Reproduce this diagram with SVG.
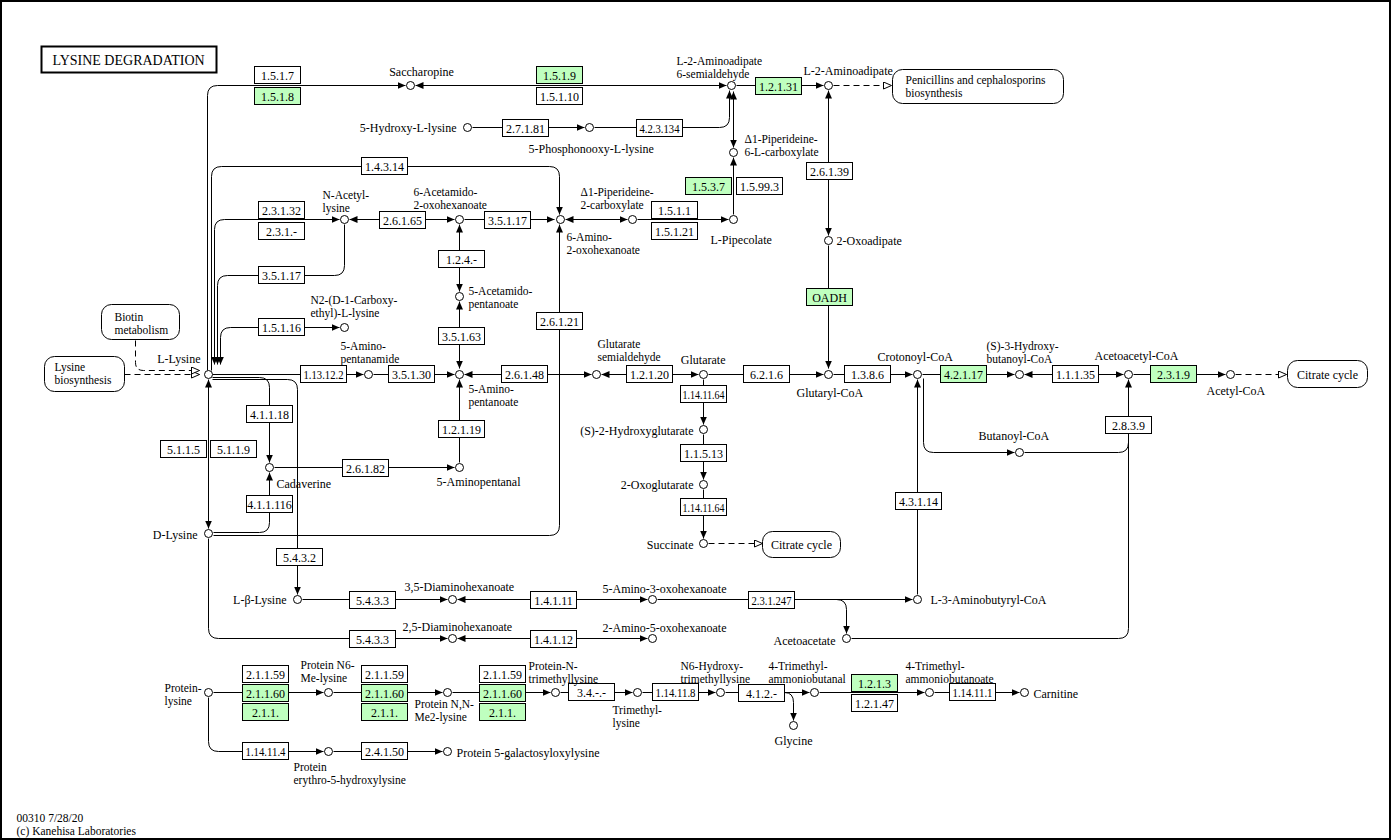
<svg xmlns="http://www.w3.org/2000/svg" width="1395" height="840" viewBox="0 0 1395 840">
<defs>
<style>
text{font-family:"Liberation Serif","Times New Roman",serif;font-size:12px;fill:#000}
text.s{font-size:11.5px}
.m{text-anchor:middle}
.r{text-anchor:end}
.e rect{fill:#fff;stroke:#000;stroke-width:1}
.e.g rect{fill:#bfffbf}
circle{fill:#fff;stroke:#000;stroke-width:1}
.map rect{fill:#fff;stroke:#000;stroke-width:1}
#connectors path{fill:none;stroke:#000;stroke-width:1}
#connectors path.d{stroke-dasharray:6,4}
#connectors .f{marker-end:url(#a)}
#connectors .b{marker-start:url(#a);marker-end:url(#a)}
#connectors .o{marker-end:url(#o)}
</style>
<marker id="a" viewBox="0 0 8 7" refX="8" refY="3.5" markerWidth="8" markerHeight="7" markerUnits="userSpaceOnUse" orient="auto-start-reverse"><path d="M0,0 L8,3.5 L0,7 z" fill="#000"/></marker>
<marker id="o" viewBox="0 0 9 8" refX="8.5" refY="4" markerWidth="9" markerHeight="8" markerUnits="userSpaceOnUse" orient="auto"><path d="M0.5,0.5 L8.5,4 L0.5,7.5 z" fill="#fff" stroke="#000" stroke-width="1"/></marker>
</defs>
<rect x="0" y="0" width="1395" height="840" fill="#fff"/>
<rect x="1" y="1" width="1389" height="838" fill="none" stroke="#000" stroke-width="2"/>
<g transform="translate(0.5,0.5)">
<g id="title"><rect x="41" y="46" width="175" height="26" fill="#fff" stroke="#000" stroke-width="2"/><text x="52" y="64" style="font-size:14px">LYSINE DEGRADATION</text></g>

<g id="connectors">
<path class="f" d="M207,370 V95 Q207,85 217,85 H405"/>
<path class="b" d="M415,85 H726"/>
<path class="f" d="M472,127 H584"/>
<path class="f" d="M594,127 H719 Q729,127 729,117 V90"/>
<path class="b" d="M733,147 V91"/>
<path class="f" d="M733,214 V157"/>
<path class="f" d="M736,85 H823"/>
<path class="b" d="M828,90 V235"/>
<path class="f" d="M828,245 V368"/>
<path class="d o" d="M833,85 H891"/>
<path class="f" d="M211,370 V176 Q211,166 221,166 H549 Q559,166 559,176 V214"/>
<path class="b" d="M214,364 V229 Q214,219 224,219 H339"/>
<path class="f" d="M344,224 V265 Q344,275 334,275 H227 Q217,275 217,285 V364"/>
<path class="b" d="M220,364 V337 Q220,327 230,327 H339"/>
<path class="b" d="M349,219 H454"/>
<path class="f" d="M464,219 H554"/>
<path class="b" d="M565,219 H627"/>
<path class="f" d="M637,219 H728"/>
<path class="b" d="M459,224 V291"/>
<path class="b" d="M459,301 V368"/>
<path class="f" d="M213,535 H549 Q559,535 559,525 V224"/>
<path class="f" d="M212,374 H363"/>
<path class="f" d="M212,377 H259 Q269,377 269,387 V462"/>
<path class="f" d="M212,379 H287 Q297,379 297,389 V594"/>
<path class="f" d="M373,374 H454"/>
<path class="b" d="M464,374 H591"/>
<path class="b" d="M601,374 H698"/>
<path class="f" d="M708,374 H823"/>
<path class="f" d="M833,374 H912"/>
<path class="f" d="M922,374 H1014"/>
<path class="b" d="M1024,374 H1123"/>
<path class="f" d="M1133,374 H1225"/>
<path class="d o" d="M1235,374 H1286"/>
<path class="f" d="M923,378 V442 Q923,452 933,452 H1014"/>
<path d="M1024,452 H1118 Q1128,452 1128,442"/>
<path class="f" d="M851,638 H1118 Q1128,638 1128,628 V379"/>
<path class="f" d="M703,379 V424"/>
<path class="f" d="M703,434 V479"/>
<path class="f" d="M703,489 V538"/>
<path class="d o" d="M708,543 H762"/>
<path class="b" d="M208,379 V528"/>
<path class="f" d="M213,532 H259 Q269,532 269,522 V472"/>
<path class="f" d="M274,467 H454"/>
<path class="f" d="M459,462 V379"/>
<path class="d o" d="M124,374 H199"/>
<path class="d o" d="M135,340 V362 Q135,370 143,370 H199"/>
<path class="f" d="M208,538 V628 Q208,638 218,638 H447"/>
<path class="f" d="M302,599 H447"/>
<path class="b" d="M457,599 H647"/>
<path class="f" d="M657,599 H912"/>
<path class="f" d="M836,599 Q846,599 846,609 V633"/>
<path class="f" d="M917,594 V379"/>
<path class="b" d="M457,638 H647"/>
<path class="f" d="M213,692 H323"/>
<path class="f" d="M333,692 H442"/>
<path class="f" d="M452,692 H550"/>
<path class="f" d="M560,692 H632"/>
<path class="f" d="M642,692 H715"/>
<path class="f" d="M725,692 H809"/>
<path class="f" d="M784,692 Q793,692 793,702 V720"/>
<path class="f" d="M819,692 H924"/>
<path class="f" d="M934,692 H1019"/>
<path class="f" d="M208,697 V741 Q208,751 218,751 H323"/>
<path class="f" d="M333,751 H442"/>
</g>

<g id="maps">
<g id="map-penicillins" class="map"><rect x="892" y="69" width="171" height="34" rx="10"/><text x="905" y="83" class="s">Penicillins and cephalosporins</text><text x="905" y="96" class="s">biosynthesis</text></g>
<g id="map-citrate1" class="map"><rect x="1287" y="360" width="80" height="27" rx="10"/><text x="1327" y="378" class="m">Citrate cycle</text></g>
<g id="map-citrate2" class="map"><rect x="762" y="531" width="78" height="26" rx="10"/><text x="801" y="548" class="m">Citrate cycle</text></g>
<g id="map-lysine-biosynthesis" class="map"><rect x="44" y="356" width="80" height="35" rx="10"/><text x="54" y="370" class="s">Lysine</text><text x="54" y="383" class="s">biosynthesis</text></g>
<g id="map-biotin" class="map"><rect x="101" y="304" width="78" height="35" rx="10"/><text x="114" y="320" class="s">Biotin</text><text x="114" y="333" class="s">metabolism</text></g>
</g>

<g id="enzymes">
<g id="ec-1.5.1.7" class="e"><rect x="254" y="66" width="46" height="17"/><text x="277" y="79" class="m">1.5.1.7</text></g>
<g id="ec-1.5.1.8" class="e g"><rect x="254" y="87" width="46" height="17"/><text x="277" y="100" class="m">1.5.1.8</text></g>
<g id="ec-1.5.1.9" class="e g"><rect x="536" y="66" width="46" height="17"/><text x="559" y="79" class="m">1.5.1.9</text></g>
<g id="ec-1.5.1.10" class="e"><rect x="536" y="87" width="46" height="17"/><text x="559" y="100" class="m">1.5.1.10</text></g>
<g id="ec-2.7.1.81" class="e"><rect x="502" y="119" width="46" height="17"/><text x="525" y="132" class="m">2.7.1.81</text></g>
<g id="ec-4.2.3.134" class="e"><rect x="636" y="119" width="46" height="17"/><text x="659" y="132" class="m" textLength="40" lengthAdjust="spacingAndGlyphs">4.2.3.134</text></g>
<g id="ec-1.2.1.31" class="e g"><rect x="755" y="77" width="46" height="17"/><text x="778" y="90" class="m">1.2.1.31</text></g>
<g id="ec-1.5.3.7" class="e g"><rect x="685" y="177" width="46" height="17"/><text x="708" y="190" class="m">1.5.3.7</text></g>
<g id="ec-1.5.99.3" class="e"><rect x="736" y="177" width="46" height="17"/><text x="759" y="190" class="m">1.5.99.3</text></g>
<g id="ec-2.6.1.39" class="e"><rect x="806" y="162" width="46" height="17"/><text x="829" y="175" class="m">2.6.1.39</text></g>
<g id="ec-1.4.3.14" class="e"><rect x="361" y="157" width="46" height="17"/><text x="384" y="170" class="m">1.4.3.14</text></g>
<g id="ec-2.3.1.32" class="e"><rect x="258" y="201" width="46" height="17"/><text x="281" y="214" class="m">2.3.1.32</text></g>
<g id="ec-2.3.1.-" class="e"><rect x="258" y="222" width="46" height="17"/><text x="281" y="235" class="m">2.3.1.-</text></g>
<g id="ec-2.6.1.65" class="e"><rect x="379" y="211" width="46" height="17"/><text x="402" y="224" class="m">2.6.1.65</text></g>
<g id="ec-3.5.1.17-a" class="e"><rect x="484" y="211" width="46" height="17"/><text x="507" y="224" class="m">3.5.1.17</text></g>
<g id="ec-1.5.1.1" class="e"><rect x="651" y="201" width="46" height="17"/><text x="674" y="214" class="m">1.5.1.1</text></g>
<g id="ec-1.5.1.21" class="e"><rect x="651" y="222" width="46" height="17"/><text x="674" y="235" class="m">1.5.1.21</text></g>
<g id="ec-3.5.1.17-b" class="e"><rect x="258" y="266" width="46" height="17"/><text x="281" y="279" class="m">3.5.1.17</text></g>
<g id="ec-1.2.4.-" class="e"><rect x="438" y="250" width="46" height="17"/><text x="461" y="263" class="m">1.2.4.-</text></g>
<g id="ec-OADH" class="e g"><rect x="806" y="288" width="46" height="17"/><text x="829" y="301" class="m">OADH</text></g>
<g id="ec-1.5.1.16" class="e"><rect x="258" y="318" width="46" height="17"/><text x="281" y="331" class="m">1.5.1.16</text></g>
<g id="ec-2.6.1.21" class="e"><rect x="536" y="312" width="46" height="17"/><text x="559" y="325" class="m">2.6.1.21</text></g>
<g id="ec-3.5.1.63" class="e"><rect x="438" y="327" width="46" height="17"/><text x="461" y="340" class="m">3.5.1.63</text></g>
<g id="ec-1.13.12.2" class="e"><rect x="300" y="365" width="46" height="17"/><text x="323" y="378" class="m" textLength="40" lengthAdjust="spacingAndGlyphs">1.13.12.2</text></g>
<g id="ec-3.5.1.30" class="e"><rect x="388" y="365" width="46" height="17"/><text x="411" y="378" class="m">3.5.1.30</text></g>
<g id="ec-2.6.1.48" class="e"><rect x="501" y="365" width="46" height="17"/><text x="524" y="378" class="m">2.6.1.48</text></g>
<g id="ec-1.2.1.20" class="e"><rect x="626" y="365" width="46" height="17"/><text x="649" y="378" class="m">1.2.1.20</text></g>
<g id="ec-6.2.1.6" class="e"><rect x="743" y="365" width="46" height="17"/><text x="766" y="378" class="m">6.2.1.6</text></g>
<g id="ec-1.3.8.6" class="e"><rect x="844" y="365" width="46" height="17"/><text x="867" y="378" class="m">1.3.8.6</text></g>
<g id="ec-4.2.1.17" class="e g"><rect x="940" y="365" width="46" height="17"/><text x="963" y="378" class="m">4.2.1.17</text></g>
<g id="ec-1.1.1.35" class="e"><rect x="1052" y="365" width="46" height="17"/><text x="1075" y="378" class="m">1.1.1.35</text></g>
<g id="ec-2.3.1.9" class="e g"><rect x="1150" y="365" width="46" height="17"/><text x="1173" y="378" class="m">2.3.1.9</text></g>
<g id="ec-1.14.11.64-a" class="e"><rect x="680" y="385" width="46" height="17"/><text x="703" y="398" class="m" textLength="42" lengthAdjust="spacingAndGlyphs">1.14.11.64</text></g>
<g id="ec-4.1.1.18" class="e"><rect x="246" y="405" width="46" height="17"/><text x="269" y="418" class="m">4.1.1.18</text></g>
<g id="ec-1.2.1.19" class="e"><rect x="438" y="420" width="46" height="17"/><text x="461" y="433" class="m">1.2.1.19</text></g>
<g id="ec-2.8.3.9" class="e"><rect x="1105" y="416" width="46" height="17"/><text x="1128" y="429" class="m">2.8.3.9</text></g>
<g id="ec-5.1.1.5" class="e"><rect x="160" y="440" width="46" height="17"/><text x="183" y="453" class="m">5.1.1.5</text></g>
<g id="ec-5.1.1.9" class="e"><rect x="210" y="440" width="46" height="17"/><text x="233" y="453" class="m">5.1.1.9</text></g>
<g id="ec-1.1.5.13" class="e"><rect x="680" y="444" width="46" height="17"/><text x="703" y="457" class="m">1.1.5.13</text></g>
<g id="ec-2.6.1.82" class="e"><rect x="342" y="459" width="46" height="17"/><text x="365" y="472" class="m">2.6.1.82</text></g>
<g id="ec-4.3.1.14" class="e"><rect x="895" y="492" width="46" height="17"/><text x="918" y="505" class="m">4.3.1.14</text></g>
<g id="ec-4.1.1.116" class="e"><rect x="246" y="495" width="46" height="17"/><text x="269" y="508" class="m">4.1.1.116</text></g>
<g id="ec-1.14.11.64-b" class="e"><rect x="680" y="498" width="46" height="17"/><text x="703" y="511" class="m" textLength="42" lengthAdjust="spacingAndGlyphs">1.14.11.64</text></g>
<g id="ec-5.4.3.2" class="e"><rect x="276" y="548" width="46" height="17"/><text x="299" y="561" class="m">5.4.3.2</text></g>
<g id="ec-5.4.3.3-a" class="e"><rect x="349" y="591" width="46" height="17"/><text x="372" y="604" class="m">5.4.3.3</text></g>
<g id="ec-1.4.1.11" class="e"><rect x="530" y="591" width="46" height="17"/><text x="553" y="604" class="m">1.4.1.11</text></g>
<g id="ec-2.3.1.247" class="e"><rect x="748" y="591" width="46" height="17"/><text x="771" y="604" class="m" textLength="40" lengthAdjust="spacingAndGlyphs">2.3.1.247</text></g>
<g id="ec-5.4.3.3-b" class="e"><rect x="349" y="630" width="46" height="17"/><text x="372" y="643" class="m">5.4.3.3</text></g>
<g id="ec-1.4.1.12" class="e"><rect x="530" y="630" width="46" height="17"/><text x="553" y="643" class="m">1.4.1.12</text></g>
<g id="ec-2.1.1.59-a" class="e"><rect x="242" y="665" width="46" height="17"/><text x="265" y="678" class="m">2.1.1.59</text></g>
<g id="ec-2.1.1.60-a" class="e g"><rect x="242" y="684" width="46" height="17"/><text x="265" y="697" class="m">2.1.1.60</text></g>
<g id="ec-2.1.1.-a" class="e g"><rect x="242" y="703" width="46" height="17"/><text x="265" y="716" class="m">2.1.1.</text></g>
<g id="ec-2.1.1.59-b" class="e"><rect x="361" y="665" width="46" height="17"/><text x="384" y="678" class="m">2.1.1.59</text></g>
<g id="ec-2.1.1.60-b" class="e g"><rect x="361" y="684" width="46" height="17"/><text x="384" y="697" class="m">2.1.1.60</text></g>
<g id="ec-2.1.1.-b" class="e g"><rect x="361" y="703" width="46" height="17"/><text x="384" y="716" class="m">2.1.1.</text></g>
<g id="ec-2.1.1.59-c" class="e"><rect x="479" y="665" width="46" height="17"/><text x="502" y="678" class="m">2.1.1.59</text></g>
<g id="ec-2.1.1.60-c" class="e g"><rect x="479" y="684" width="46" height="17"/><text x="502" y="697" class="m">2.1.1.60</text></g>
<g id="ec-2.1.1.-c" class="e g"><rect x="479" y="703" width="46" height="17"/><text x="502" y="716" class="m">2.1.1.</text></g>
<g id="ec-3.4.-.-" class="e"><rect x="568" y="683" width="46" height="17"/><text x="591" y="696" class="m">3.4.-.-</text></g>
<g id="ec-1.14.11.8" class="e"><rect x="652" y="683" width="46" height="17"/><text x="675" y="696" class="m" textLength="40" lengthAdjust="spacingAndGlyphs">1.14.11.8</text></g>
<g id="ec-4.1.2.-" class="e"><rect x="738" y="684" width="46" height="17"/><text x="761" y="697" class="m">4.1.2.-</text></g>
<g id="ec-1.2.1.3" class="e g"><rect x="851" y="674" width="46" height="17"/><text x="874" y="687" class="m">1.2.1.3</text></g>
<g id="ec-1.2.1.47" class="e"><rect x="851" y="694" width="46" height="17"/><text x="874" y="707" class="m">1.2.1.47</text></g>
<g id="ec-1.14.11.1" class="e"><rect x="949" y="683" width="46" height="17"/><text x="972" y="696" class="m" textLength="40" lengthAdjust="spacingAndGlyphs">1.14.11.1</text></g>
<g id="ec-1.14.11.4" class="e"><rect x="242" y="742" width="46" height="17"/><text x="265" y="755" class="m" textLength="40" lengthAdjust="spacingAndGlyphs">1.14.11.4</text></g>
<g id="ec-2.4.1.50" class="e"><rect x="361" y="742" width="46" height="17"/><text x="384" y="755" class="m">2.4.1.50</text></g>
</g>

<g id="compounds">
<g id="cpd-saccharopine"><circle cx="410" cy="85" r="4"/><text x="421" y="75" class="m">Saccharopine</text></g>
<g id="cpd-aasa"><circle cx="731" cy="85" r="4"/><text x="676" y="64" class="s">L-2-Aminoadipate</text><text x="676" y="77" class="s">6-semialdehyde</text></g>
<g id="cpd-l2aa"><circle cx="828" cy="85" r="4"/><text x="803" y="74">L-2-Aminoadipate</text></g>
<g id="cpd-5hl"><circle cx="467" cy="127" r="4"/><text x="456" y="131" class="r">5-Hydroxy-L-lysine</text></g>
<g id="cpd-5pl"><circle cx="589" cy="127" r="4"/><text x="528" y="152">5-Phosphonooxy-L-lysine</text></g>
<g id="cpd-p6c"><circle cx="733" cy="152" r="4"/><text x="744" y="142" class="s">Δ1-Piperideine-</text><text x="744" y="155" class="s">6-L-carboxylate</text></g>
<g id="cpd-pipecolate"><circle cx="733" cy="219" r="4"/><text x="710" y="243">L-Pipecolate</text></g>
<g id="cpd-2oxoadipate"><circle cx="828" cy="240" r="4"/><text x="836" y="244">2-Oxoadipate</text></g>
<g id="cpd-p2c"><circle cx="632" cy="219" r="4"/><text x="580" y="195" class="s">Δ1-Piperideine-</text><text x="580" y="208" class="s">2-carboxylate</text></g>
<g id="cpd-6a2o"><circle cx="459" cy="219" r="4"/><text x="413" y="195" class="s">6-Acetamido-</text><text x="413" y="208" class="s">2-oxohexanoate</text></g>
<g id="cpd-6am2o"><circle cx="560" cy="219" r="4"/><text x="566" y="240" class="s">6-Amino-</text><text x="566" y="253" class="s">2-oxohexanoate</text></g>
<g id="cpd-nacetyllysine"><circle cx="344" cy="219" r="4"/><text x="322" y="198" class="s">N-Acetyl-</text><text x="322" y="211" class="s">lysine</text></g>
<g id="cpd-n2ce"><circle cx="344" cy="327" r="4"/><text x="310" y="303" class="s">N2-(D-1-Carboxy-</text><text x="310" y="316" class="s">ethyl)-L-lysine</text></g>
<g id="cpd-5acp"><circle cx="459" cy="296" r="4"/><text x="468" y="294" class="s">5-Acetamido-</text><text x="468" y="307" class="s">pentanoate</text></g>
<g id="cpd-5apa"><circle cx="368" cy="374" r="4"/><text x="340" y="349" class="s">5-Amino-</text><text x="340" y="362" class="s">pentanamide</text></g>
<g id="cpd-5ap"><circle cx="459" cy="374" r="4"/><text x="468" y="392" class="s">5-Amino-</text><text x="468" y="405" class="s">pentanoate</text></g>
<g id="cpd-gsa"><circle cx="596" cy="374" r="4"/><text x="597" y="347" class="s">Glutarate</text><text x="597" y="360" class="s">semialdehyde</text></g>
<g id="cpd-glutarate"><circle cx="703" cy="374" r="4"/><text x="725" y="363" class="r">Glutarate</text></g>
<g id="cpd-glutarylcoa"><circle cx="828" cy="374" r="4"/><text x="796" y="396">Glutaryl-CoA</text></g>
<g id="cpd-crotonoylcoa"><circle cx="917" cy="374" r="4"/><text x="877" y="360">Crotonoyl-CoA</text></g>
<g id="cpd-s3hb"><circle cx="1019" cy="374" r="4"/><text x="986" y="349" class="s">(S)-3-Hydroxy-</text><text x="986" y="362" class="s">butanoyl-CoA</text></g>
<g id="cpd-acetoacetylcoa"><circle cx="1128" cy="374" r="4"/><text x="1094" y="359">Acetoacetyl-CoA</text></g>
<g id="cpd-acetylcoa"><circle cx="1230" cy="374" r="4"/><text x="1206" y="394">Acetyl-CoA</text></g>
<g id="cpd-butanoylcoa"><circle cx="1019" cy="452" r="4"/><text x="978" y="439">Butanoyl-CoA</text></g>
<g id="cpd-s2hg"><circle cx="703" cy="429" r="4"/><text x="693" y="434" class="r">(S)-2-Hydroxyglutarate</text></g>
<g id="cpd-2og"><circle cx="703" cy="484" r="4"/><text x="693" y="488" class="r">2-Oxoglutarate</text></g>
<g id="cpd-succinate"><circle cx="703" cy="543" r="4"/><text x="693" y="548" class="r">Succinate</text></g>
<g id="cpd-cadaverine"><circle cx="269" cy="467" r="4"/><text x="276" y="487">Cadaverine</text></g>
<g id="cpd-5apal"><circle cx="459" cy="467" r="4"/><text x="436" y="485">5-Aminopentanal</text></g>
<g id="cpd-llysine"><circle cx="208" cy="374" r="4"/><text x="200" y="362" class="r">L-Lysine</text></g>
<g id="cpd-dlysine"><circle cx="208" cy="533" r="4"/><text x="197" y="538" class="r">D-Lysine</text></g>
<g id="cpd-lblysine"><circle cx="297" cy="599" r="4"/><text x="286" y="603" class="r">L-β-Lysine</text></g>
<g id="cpd-35dah"><circle cx="452" cy="599" r="4"/><text x="404" y="590">3,5-Diaminohexanoate</text></g>
<g id="cpd-5a3oh"><circle cx="652" cy="599" r="4"/><text x="602" y="592">5-Amino-3-oxohexanoate</text></g>
<g id="cpd-l3abcoa"><circle cx="917" cy="599" r="4"/><text x="930" y="603">L-3-Aminobutyryl-CoA</text></g>
<g id="cpd-acetoacetate"><circle cx="846" cy="638" r="4"/><text x="835" y="644" class="r">Acetoacetate</text></g>
<g id="cpd-25dah"><circle cx="452" cy="638" r="4"/><text x="402" y="630">2,5-Diaminohexanoate</text></g>
<g id="cpd-2a5oh"><circle cx="652" cy="638" r="4"/><text x="602" y="631">2-Amino-5-oxohexanoate</text></g>
<g id="cpd-proteinlysine"><circle cx="208" cy="692" r="4"/><text x="164" y="691" class="s">Protein-</text><text x="164" y="704" class="s">lysine</text></g>
<g id="cpd-pn6me"><circle cx="328" cy="692" r="4"/><text x="300" y="668" class="s">Protein N6-</text><text x="300" y="681" class="s">Me-lysine</text></g>
<g id="cpd-pnnme2"><circle cx="447" cy="692" r="4"/><text x="414" y="707" class="s">Protein N,N-</text><text x="414" y="720" class="s">Me2-lysine</text></g>
<g id="cpd-pntml"><circle cx="555" cy="692" r="4"/><text x="528" y="669" class="s">Protein-N-</text><text x="528" y="682" class="s">trimethyllysine</text></g>
<g id="cpd-tml"><circle cx="637" cy="692" r="4"/><text x="612" y="713" class="s">Trimethyl-</text><text x="612" y="726" class="s">lysine</text></g>
<g id="cpd-n6html"><circle cx="720" cy="692" r="4"/><text x="680" y="669" class="s">N6-Hydroxy-</text><text x="680" y="682" class="s">trimethyllysine</text></g>
<g id="cpd-tmabal"><circle cx="814" cy="692" r="4"/><text x="768" y="669" class="s">4-Trimethyl-</text><text x="768" y="682" class="s">ammoniobutanal</text></g>
<g id="cpd-glycine"><circle cx="793" cy="725" r="4"/><text x="793" y="744" class="m">Glycine</text></g>
<g id="cpd-tmaba"><circle cx="929" cy="692" r="4"/><text x="905" y="669" class="s">4-Trimethyl-</text><text x="905" y="682" class="s">ammoniobutanoate</text></g>
<g id="cpd-carnitine"><circle cx="1024" cy="692" r="4"/><text x="1033" y="697">Carnitine</text></g>
<g id="cpd-pe5hl"><circle cx="328" cy="751" r="4"/><text x="293" y="770" class="s">Protein</text><text x="293" y="783" class="s">erythro-5-hydroxylysine</text></g>
<g id="cpd-p5gl"><circle cx="447" cy="751" r="4"/><text x="456" y="756">Protein 5-galactosyloxylysine</text></g>
</g>

<g id="footer"><text x="16" y="821" class="s">00310 7/28/20</text><text x="16" y="834" class="s">(c) Kanehisa Laboratories</text></g>
</g>
</svg>
